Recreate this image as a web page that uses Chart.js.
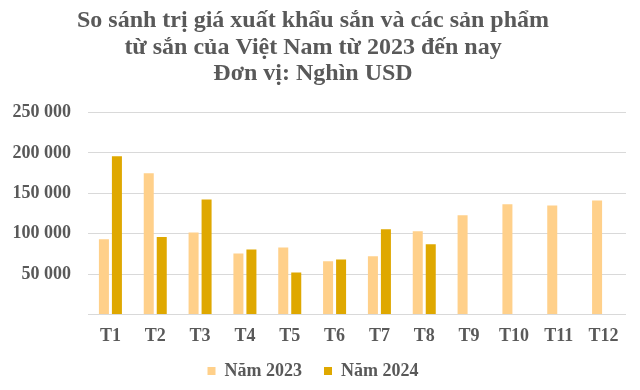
<!DOCTYPE html>
<html>
<head>
    <title>Xuất khẩu sắn</title>
    <script src="https://cdn.jsdelivr.net/npm/chart.js@4"></script>
    <style>
        body {
            margin: 0;
            background-color: #ffffff;
        }
        .chart-box {
            width: 640px;
            height: 390px;
        }
    </style>
</head>
<body>
    <div class="chart-box">
        <canvas id="exportChart" width="640" height="390"></canvas>
    </div>

    <script>
        // Giá trị (nghìn USD)
        const months = ['T1', 'T2', 'T3', 'T4', 'T5', 'T6', 'T7', 'T8', 'T9', 'T10', 'T11', 'T12'];
        const values2023 = [93000, 175000, 101500, 75500, 83000, 66000, 72000, 103000, 123000, 136500, 135000, 141000];
        const values2024 = [196000, 96000, 142500, 80500, 52000, 68000, 105500, 87000, null, null, null, null];
        const yTicks = [0, 50000, 100000, 150000, 200000, 250000];

        const textGray = '#595959';
        const serif = "'Liberation Serif', 'Times New Roman', serif";

        const ctx = document.getElementById('exportChart').getContext('2d');
        const chart = new Chart(ctx, {
            type: 'bar',
            data: {
                labels: months,
                datasets: [{
                    label: 'Năm 2023',
                    data: values2023,
                    backgroundColor: '#FFD08A',
                    categoryPercentage: 0.58,
                    barPercentage: 0.77
                }, {
                    label: 'Năm 2024',
                    data: values2024,
                    backgroundColor: '#DFA800',
                    categoryPercentage: 0.58,
                    barPercentage: 0.77
                }]
            },
            options: {
                responsive: false,
                animation: false,
                layout: {
                    padding: { top: 4, right: 14, left: 0, bottom: 0 }
                },
                scales: {
                    x: {
                        grid: { display: false, drawTicks: false },
                        border: { display: false },
                        ticks: {
                            color: textGray,
                            font: { family: serif, size: 18, weight: 'bold' },
                            padding: 11
                        }
                    },
                    y: {
                        min: 0,
                        max: 250000,
                        afterBuildTicks: (scale) => {
                            scale.ticks = yTicks.map(v => ({ value: v }));
                        },
                        afterFit: (scale) => {
                            scale.width = 88;
                        },
                        grid: { color: '#d9d9d9', drawTicks: false },
                        border: { display: false },
                        ticks: {
                            color: textGray,
                            font: { family: serif, size: 18, weight: 'bold' },
                            padding: 17,
                            callback: (v) => v === 0 ? '' : String(v).replace(/\B(?=(\d{3})+(?!\d))/g, ' ')
                        }
                    }
                },
                plugins: {
                    title: {
                        display: true,
                        text: ['So sánh trị giá xuất khẩu sắn và các sản phẩm', 'từ sắn của Việt Nam từ 2023 đến nay', 'Đơn vị: Nghìn USD'],
                        color: textGray,
                        font: { family: serif, size: 24, weight: 'bold', lineHeight: 1.12 },
                        padding: { top: 3, bottom: 25 }
                    },
                    legend: {
                        position: 'bottom',
                        labels: {
                            color: textGray,
                            font: { family: serif, size: 18, weight: 'bold' },
                            boxWidth: 8,
                            boxHeight: 8,
                            padding: 4,
                            // a bit more room between the two legend items
                            generateLabels: (c) => {
                                const items = Chart.defaults.plugins.legend.labels.generateLabels(c);
                                items.forEach((it, i) => {
                                    if (i < items.length - 1) it.text += '\u00a0\u00a0\u00a0\u00a0';
                                });
                                return items;
                            }
                        }
                    },
                    tooltip: { enabled: false }
                }
            }
        });
    </script>
</body>
</html>
